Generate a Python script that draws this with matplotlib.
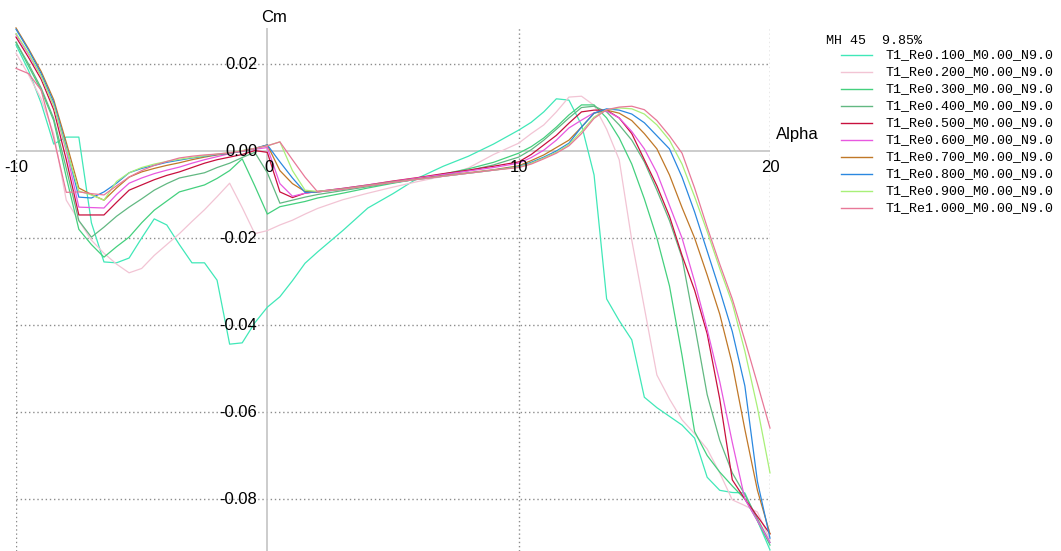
import matplotlib
matplotlib.use("Agg")
import matplotlib.pyplot as plt
from matplotlib.lines import Line2D

# angle of attack grid (deg)
alpha = [-10, -9.5, -9, -8.5, -8, -7.5, -7, -6.5, -6, -5.5,
         -5, -4.5, -4, -3.5, -3, -2.5, -2, -1.5, -1, -0.5,
         0, 0.5, 1, 1.5, 2,
         3, 4, 5, 6, 7, 8, 9, 10,
         10.5, 11, 11.5, 12, 12.5, 13, 13.5, 14, 14.5, 15,
         15.5, 16, 16.5, 17, 17.5, 18, 18.5, 19, 19.5, 20]

cm_re010 = [0.0244, 0.0185, 0.0110, 0.0016, 0.0032, 0.0032, -0.0165, -0.0255, -0.0257, -0.0246,
            -0.0200, -0.0156, -0.0170, -0.0215, -0.0257, -0.0257, -0.0297, -0.0444, -0.0441, -0.0395,
            -0.0359, -0.0335, -0.0298, -0.0258, -0.0232,
            -0.0183, -0.0131, -0.0098, -0.0062, -0.0035, -0.0012, 0.0016, 0.0048,
            0.0066, 0.0090, 0.0120, 0.0117, 0.0060, -0.0055, -0.0340, -0.0390, -0.0434, -0.0566,
            -0.0590, -0.0610, -0.0630, -0.0660, -0.0750, -0.0780, -0.0785, -0.0786, -0.0850, -0.0917]

cm_re020 = [0.0225, 0.0175, 0.0120, 0.0040, -0.0113, -0.0160, -0.0205, -0.0235, -0.0260, -0.0280,
            -0.0270, -0.0240, -0.0215, -0.0190, -0.0162, -0.0135, -0.0105, -0.0074, -0.0130, -0.0190,
            -0.0183, -0.0170, -0.0159, -0.0145, -0.0132,
            -0.0112, -0.0097, -0.0083, -0.0070, -0.0058, -0.0039, -0.0008, 0.0018,
            0.0040, 0.0060, 0.0090, 0.0124, 0.0126, 0.0105, 0.0050, -0.0020, -0.0205, -0.0360,
            -0.0515, -0.0570, -0.0618, -0.0650, -0.0685, -0.0740, -0.0802, -0.0815, -0.0830, -0.0894]

cm_re030 = [0.0250, 0.0195, 0.0140, 0.0070, -0.0060, -0.0180, -0.0215, -0.0244, -0.0220, -0.0198,
            -0.0165, -0.0136, -0.0115, -0.0094, -0.0086, -0.0078, -0.0063, -0.0045, -0.0018, -0.0080,
            -0.0145, -0.0128, -0.0122, -0.0116, -0.0108,
            -0.0097, -0.0085, -0.0074, -0.0064, -0.0053, -0.0041, -0.0026, -0.0005,
            0.0010, 0.0030, 0.0055, 0.0083, 0.0106, 0.0106, 0.0076, 0.0030, -0.0030, -0.0110,
            -0.0200, -0.0310, -0.0470, -0.0645, -0.0700, -0.0738, -0.0770, -0.0800, -0.0850, -0.0906]

cm_re040 = [0.0250, 0.0200, 0.0145, 0.0075, -0.0040, -0.0160, -0.0198, -0.0175, -0.0150, -0.0129,
            -0.0110, -0.0090, -0.0075, -0.0062, -0.0056, -0.0050, -0.0038, -0.0028, -0.0015, -0.0003,
            -0.0050, -0.0120, -0.0113, -0.0106, -0.0100,
            -0.0091, -0.0082, -0.0073, -0.0064, -0.0055, -0.0045, -0.0032, -0.0014,
            0.0003, 0.0025, 0.0050, 0.0076, 0.0100, 0.0103, 0.0090, 0.0060, 0.0025, -0.0025,
            -0.0090, -0.0160, -0.0245, -0.0400, -0.0560, -0.0665, -0.0740, -0.0790, -0.0845, -0.0900]

cm_re050 = [0.0262, 0.0215, 0.0165, 0.0095, -0.0020, -0.0147, -0.0147, -0.0147, -0.0118, -0.0090,
            -0.0078, -0.0066, -0.0056, -0.0048, -0.0038, -0.0028, -0.0020, -0.0014, -0.0008, 0.0001,
            -0.0003, -0.0094, -0.0107, -0.0097, -0.0093,
            -0.0086, -0.0078, -0.0069, -0.0061, -0.0052, -0.0044, -0.0035, -0.0025,
            -0.0008, 0.0014, 0.0036, 0.0064, 0.0090, 0.0094, 0.0094, 0.0076, 0.0040, -0.0020,
            -0.0080, -0.0150, -0.0240, -0.0320, -0.0420, -0.0570, -0.0756, -0.0800, -0.0840, -0.0880]

cm_re060 = [0.0268, 0.0222, 0.0172, 0.0105, 0.0000, -0.0129, -0.0130, -0.0131, -0.0100, -0.0074,
            -0.0062, -0.0052, -0.0044, -0.0037, -0.0028, -0.0020, -0.0013, -0.0006, 0.0000, 0.0004,
            0.0008, -0.0075, -0.0104, -0.0097, -0.0093,
            -0.0086, -0.0078, -0.0070, -0.0062, -0.0054, -0.0046, -0.0038, -0.0028,
            -0.0015, 0.0002, 0.0025, 0.0053, 0.0071, 0.0088, 0.0092, 0.0076, 0.0045, 0.0005,
            -0.0050, -0.0125, -0.0200, -0.0300, -0.0410, -0.0530, -0.0670, -0.0800, -0.0850, -0.0900]

cm_re070 = [0.0283, 0.0235, 0.0183, 0.0118, 0.0020, -0.0085, -0.0100, -0.0113, -0.0085, -0.0060,
            -0.0048, -0.0040, -0.0033, -0.0027, -0.0020, -0.0014, -0.0009, -0.0005, 0.0000, 0.0006,
            0.0014, -0.0045, -0.0075, -0.0093, -0.0094,
            -0.0087, -0.0079, -0.0071, -0.0064, -0.0057, -0.0050, -0.0043, -0.0034,
            -0.0022, -0.0009, 0.0008, 0.0025, 0.0055, 0.0087, 0.0094, 0.0087, 0.0070, 0.0040,
            0.0005, -0.0055, -0.0130, -0.0200, -0.0285, -0.0375, -0.0490, -0.0640, -0.0780, -0.0880]

cm_re080 = [0.0280, 0.0232, 0.0178, 0.0112, 0.0010, -0.0106, -0.0108, -0.0094, -0.0074, -0.0050,
            -0.0040, -0.0033, -0.0026, -0.0021, -0.0016, -0.0012, -0.0008, -0.0005, 0.0000, 0.0006,
            0.0014, -0.0025, -0.0062, -0.0095, -0.0094,
            -0.0088, -0.0080, -0.0072, -0.0065, -0.0058, -0.0051, -0.0044, -0.0036,
            -0.0026, -0.0014, 0.0000, 0.0018, 0.0055, 0.0087, 0.0097, 0.0094, 0.0085, 0.0065,
            0.0035, 0.0005, -0.0060, -0.0140, -0.0230, -0.0320, -0.0415, -0.0540, -0.0760, -0.0890]

cm_re090 = [0.0270, 0.0225, 0.0172, 0.0105, 0.0005, -0.0092, -0.0101, -0.0113, -0.0070, -0.0050,
            -0.0038, -0.0030, -0.0024, -0.0019, -0.0015, -0.0011, -0.0007, -0.0004, 0.0001, 0.0006,
            0.0012, 0.0021, -0.0045, -0.0090, -0.0093,
            -0.0088, -0.0080, -0.0072, -0.0065, -0.0058, -0.0051, -0.0044, -0.0037,
            -0.0028, -0.0016, -0.0003, 0.0015, 0.0045, 0.0078, 0.0095, 0.0099, 0.0097, 0.0085,
            0.0060, 0.0025, -0.0030, -0.0105, -0.0185, -0.0270, -0.0350, -0.0460, -0.0590, -0.0740]

cm_re100 = [0.0190, 0.0178, 0.0140, 0.0030, -0.0095, -0.0094, -0.0098, -0.0101, -0.0080, -0.0060,
            -0.0045, -0.0033, -0.0024, -0.0016, -0.0012, -0.0009, -0.0007, -0.0004, 0.0000, 0.0006,
            0.0012, 0.0021, -0.0020, -0.0060, -0.0094,
            -0.0088, -0.0080, -0.0072, -0.0065, -0.0058, -0.0051, -0.0044, -0.0038,
            -0.0030, -0.0018, -0.0005, 0.0012, 0.0040, 0.0075, 0.0095, 0.0101, 0.0103, 0.0095,
            0.0070, 0.0035, -0.0005, -0.0085, -0.0175, -0.0260, -0.0340, -0.0435, -0.0535, -0.0637]

series = [cm_re010, cm_re020, cm_re030, cm_re040, cm_re050,
          cm_re060, cm_re070, cm_re080, cm_re090, cm_re100]
labels = ["T1_Re0.100_M0.00_N9.0", "T1_Re0.200_M0.00_N9.0", "T1_Re0.300_M0.00_N9.0",
          "T1_Re0.400_M0.00_N9.0", "T1_Re0.500_M0.00_N9.0", "T1_Re0.600_M0.00_N9.0",
          "T1_Re0.700_M0.00_N9.0", "T1_Re0.800_M0.00_N9.0", "T1_Re0.900_M0.00_N9.0",
          "T1_Re1.000_M0.00_N9.0"]
colors = ["#40e8b8", "#f2c4d4", "#44d07e", "#62b882", "#c8103e",
          "#e858e0", "#c07828", "#2a88e0", "#a8f078", "#e87898"]

x_ticks = [-10, 0, 10, 20]
y_ticks = [0.02, 0.00, -0.02, -0.04, -0.06, -0.08]

W, H = 1061, 551
fig = plt.figure(figsize=(W / 100, H / 100), dpi=100)
ax = fig.add_axes([16 / W, 0, 754 / W, 523 / H])
ax.set_xlim(-10, 20)
ax.set_ylim(-0.09195, 0.02828)
ax.axis("off")

# grid: dotted, zero axes solid grey
for xv in x_ticks:
    if xv != 0:
        ax.axvline(xv, color="#8c8c8c", lw=1.0, ls=(0, (1, 2)), zorder=1)
for yv in y_ticks:
    if yv != 0:
        ax.axhline(yv, color="#8c8c8c", lw=1.0, ls=(0, (1, 2)), zorder=1)
ax.axhline(0, color="#c4c4c4", lw=1.2, zorder=1)
ax.axvline(0, color="#c4c4c4", lw=1.2, zorder=1)

for cm, c in zip(series, colors):
    ax.plot(alpha, cm, color=c, lw=0.9, zorder=3, clip_on=False)

font = "Liberation Sans"
for xv in x_ticks:
    ax.text(xv + (0.05 if xv == 0 else 0), -0.0037, str(xv), ha="center", va="center",
            fontsize=12, family=font, zorder=4)
for yv in y_ticks:
    ax.text(-0.4, yv, "%.2f" % yv, ha="right", va="center", fontsize=12, family=font, zorder=4)
ax.text(0.28, 0.0306, "Cm", ha="center", va="center", fontsize=12, family=font)
ax.text(20.25, 0.0037, "Alpha", ha="left", va="center", fontsize=12, family=font)

# legend drawn by hand, XFLR5 style
mono = "Liberation Mono"
fig.text(826 / W, 1 - 40.7 / H, "MH 45  9.85%", family=mono, fontsize=9.6, va="center")
for i, (lab, c) in enumerate(zip(labels, colors)):
    yy = 1 - (55 + 17.0 * i) / H
    fig.add_artist(Line2D([841 / W, 872 / W], [yy, yy], color=c, lw=1.0,
                          transform=fig.transFigure))
    fig.text(886 / W, yy, lab, family=mono, fontsize=9.6, va="center")

fig.savefig("out.png", dpi=100)
